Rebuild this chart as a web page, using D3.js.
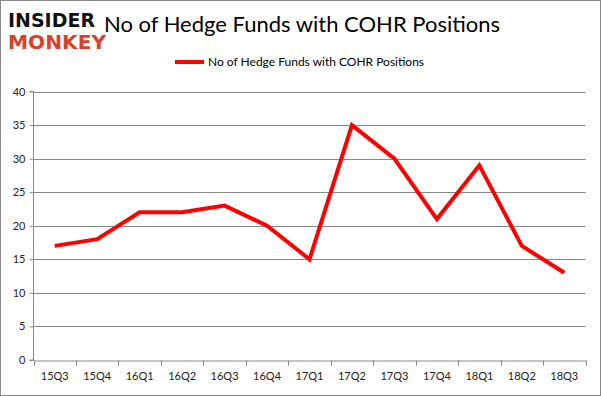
<!DOCTYPE html>
<html><head><meta charset="utf-8">
<script src="https://cdn.jsdelivr.net/npm/d3@7"></script>
<style>body{margin:0;background:#fff}svg{display:block}</style>
</head><body>
<script>
const categories = ["15Q3","15Q4","16Q1","16Q2","16Q3","16Q4","17Q1","17Q2","17Q3","17Q4","18Q1","18Q2","18Q3"];
const values = [17,18,22,22,23,20,15,35,30,21,29,17,13];
const yTicks = [0,5,10,15,20,25,30,35,40];
const seriesName = "No of Hedge Funds with COHR Positions";
const titleText = "No of Hedge Funds with COHR Positions";

const W = 601, H = 396;
const svg = d3.select("body").append("svg").attr("width", W).attr("height", H);
svg.append("rect").attr("x",0.5).attr("y",0.5).attr("width",W-1).attr("height",H-1)
  .attr("fill","#fff").attr("stroke","#888").attr("stroke-width",1);

const font = "Lato, 'Open Sans', sans-serif";
const x = d3.scaleBand().domain(categories).range([33.5, 585.5]);
const y = d3.scaleLinear().domain([0,40]).range([360, 91.5]);

// gridlines
svg.append("g").selectAll("line").data(yTicks.filter(d=>d>0)).join("line")
  .attr("x1",33.5).attr("x2",585.5).attr("y1",d=>Math.round(y(d))+0.5).attr("y2",d=>Math.round(y(d))+0.5)
  .attr("stroke","#888").attr("stroke-width",1);

// y axis
const ya = svg.append("g").attr("transform","translate(33.5,0)")
  .call(d3.axisLeft(y).tickValues(yTicks).tickSize(4).tickPadding(4));
ya.select(".domain").attr("stroke","#888").attr("d","M-4,"+y(0)+"H0V"+y(40)+"H-4");
ya.selectAll(".tick line").attr("stroke","#888");
ya.selectAll("text").attr("font-family",font).attr("font-size",11).attr("fill","#222");

// x axis
const xa = svg.append("g").attr("transform","translate(0,360.5)")
  .call(d3.axisBottom(x).tickSize(0).tickPadding(12));
xa.select(".domain").attr("stroke","#888");
xa.selectAll("text").attr("font-family",font).attr("font-size",11).attr("fill","#222");
svg.append("g").selectAll("line").data(categories.concat(["end"])).join("line")
  .attr("x1",(d,i)=>Math.round(33.5 + i*x.step())+0.5).attr("x2",(d,i)=>Math.round(33.5 + i*x.step())+0.5)
  .attr("y1",360.5).attr("y2",365.5).attr("stroke","#888");

// line
const line = d3.line().x((d,i)=>x(categories[i])+x.bandwidth()/2).y(d=>y(d));
svg.append("path").datum(values).attr("d",line).attr("fill","none")
  .attr("stroke","#ff0000").attr("stroke-width",4).attr("stroke-linejoin","miter");

// title
svg.append("text").attr("x",302).attr("y",32).attr("text-anchor","middle")
  .attr("font-family",font).attr("font-size",22).attr("fill","#000").text(titleText);

// legend
svg.append("line").attr("x1",175).attr("x2",204).attr("y1",62).attr("y2",62)
  .attr("stroke","#ff0000").attr("stroke-width",4);
svg.append("text").attr("x",208).attr("y",66).attr("font-family",font).attr("font-size",12)
  .attr("fill","#000").text(seriesName);

// logo
svg.append("text").attr("x",8).attr("y",27).attr("font-family","'DejaVu Sans', sans-serif")
  .attr("font-weight","bold").attr("font-size",20).attr("textLength",87).attr("lengthAdjust","spacingAndGlyphs")
  .attr("fill","#111").text("INSIDER");
svg.append("text").attr("x",8).attr("y",49).attr("font-family","'DejaVu Sans', sans-serif")
  .attr("font-weight","bold").attr("font-size",20).attr("textLength",98).attr("lengthAdjust","spacingAndGlyphs")
  .attr("fill","#d9412e").text("MONKEY");
</script>
</body></html>
